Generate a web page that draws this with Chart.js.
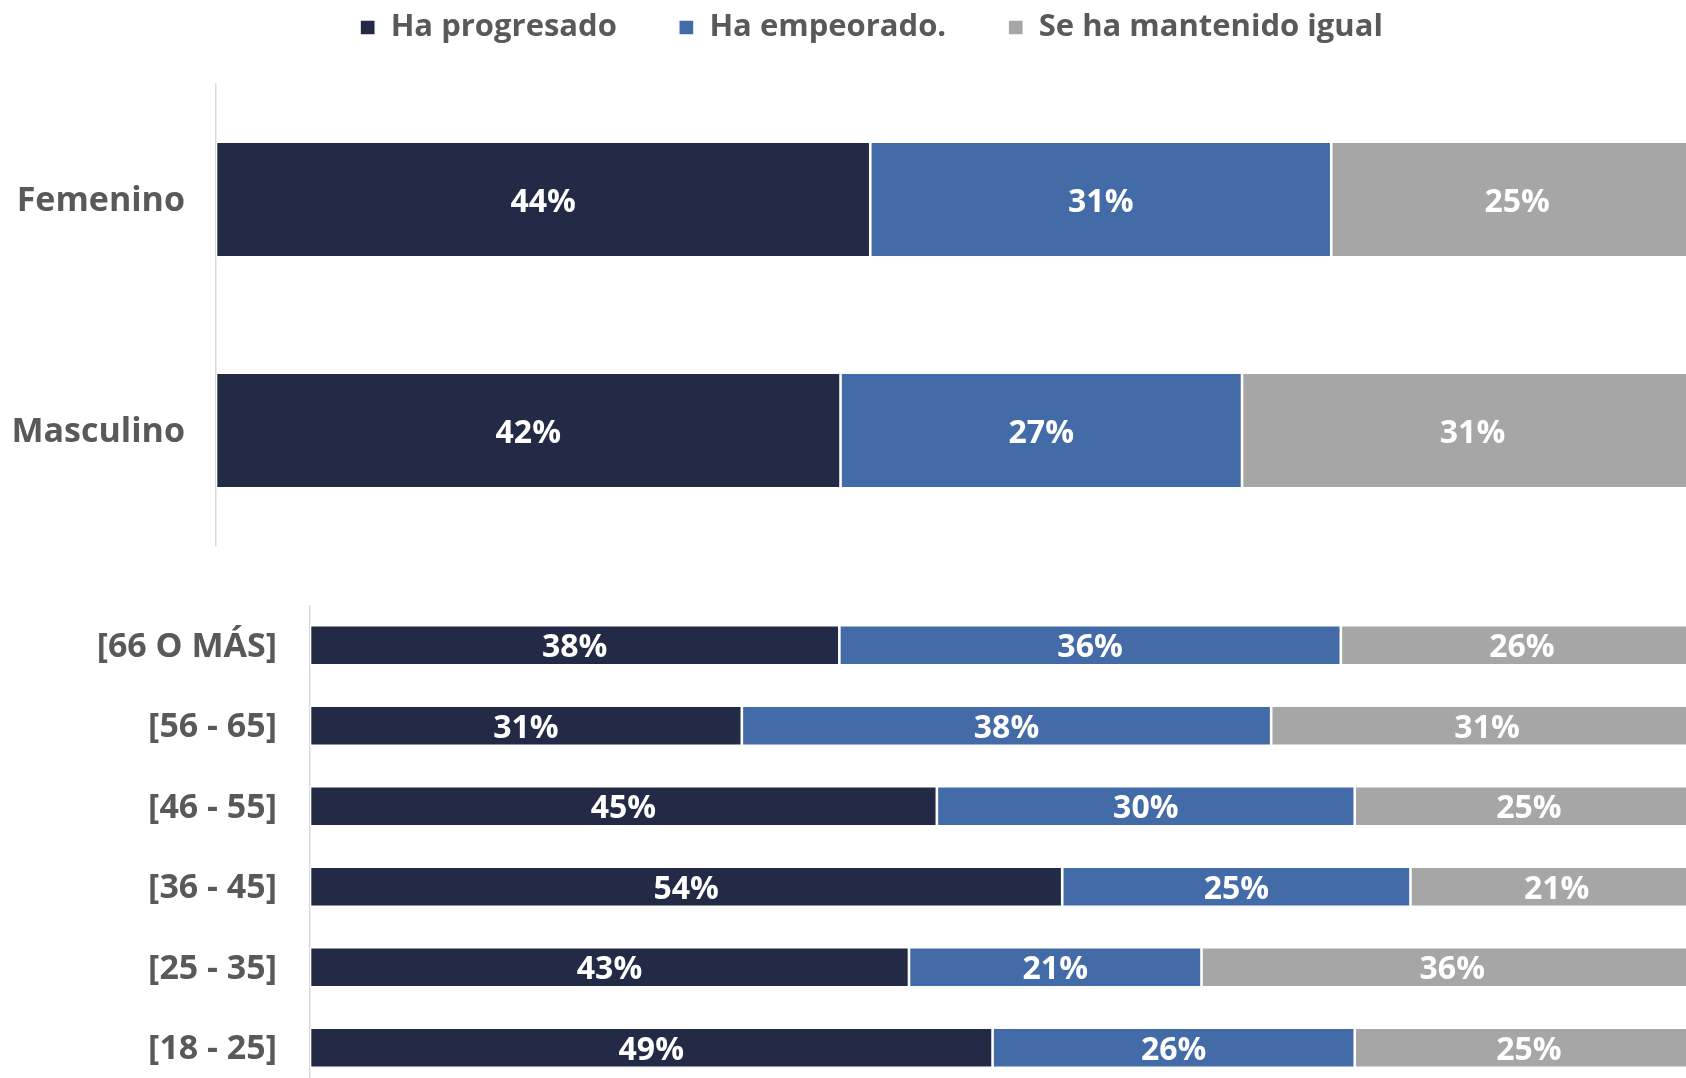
<!DOCTYPE html>
<html lang="es">
<head>
<meta charset="utf-8">
<title>Evolución según sexo y edad</title>
<script src="https://cdn.jsdelivr.net/npm/chart.js@4.4.0/dist/chart.umd.min.js"></script>
<style>
    html, body { margin: 0; padding: 0; background: #ffffff; overflow: hidden; width: 1686px; height: 1078px; }
    canvas { position: absolute; left: 0; }
    #sexoChart { top: -50px; }
    #edadChart { top: 605px; }
</style>
</head>
<body>
<canvas id="sexoChart" width="1703" height="596"></canvas>
<canvas id="edadChart" width="1703" height="483"></canvas>
<script>
// Series
const seriesLabels = ['Ha progresado', 'Ha empeorado.', 'Se ha mantenido igual'];
const seriesColors = ['#232A46', '#436BA8', '#A6A6A6'];

// Por sexo
const sexoLabels = ['Femenino', 'Masculino'];
const sexoProgresado = [44, 42];
const sexoEmpeorado = [31, 27];
const sexoIgual = [25, 31];

// Por edad
const edadLabels = ['[66 O MÁS]', '[56 - 65]', '[46 - 55]', '[36 - 45]', '[25 - 35]', '[18 - 25]'];
const edadProgresado = [38, 31, 45, 54, 43, 49];
const edadEmpeorado = [36, 38, 30, 25, 21, 26];
const edadIgual = [26, 31, 25, 21, 36, 25];

const FONT = 'Open Sans';
const TEXT_GREY = '#595959';

// Draws the white % labels in the middle of each segment
const valueLabels = {
    id: 'valueLabels',
    afterDatasetsDraw(chart, args, opts) {
        const ctx = chart.ctx;
        ctx.save();
        ctx.font = `700 ${opts.size}px "${FONT}"`;
        ctx.fillStyle = '#ffffff';
        ctx.textAlign = 'center';
        ctx.textBaseline = 'middle';
        chart.data.datasets.forEach((ds, i) => {
            chart.getDatasetMeta(i).data.forEach((bar, j) => {
                const c = bar.getCenterPoint();
                ctx.fillText(ds.data[j] + '%', c.x, c.y + 3);
            });
        });
        ctx.restore();
    }
};

// Fixed legend height and a small horizontal nudge of the legend
const legendBox = {
    id: 'legendBox',
    beforeUpdate(chart, args, opts) {
        if (!chart.legend || chart.legend._fixed) return;
        const fit = chart.legend.fit;
        chart.legend.fit = function () {
            fit.call(this);
            this.height = opts.height;
        };
        chart.legend._fixed = true;
    },
    afterLayout(chart, args, opts) {
        chart.legend.left += opts.shift;
        chart.legend.right += opts.shift;
    }
};

function makeDatasets(a, b, c) {
    return [a, b, c].map((data, i) => ({
        label: seriesLabels[i],
        data: data,
        backgroundColor: seriesColors[i],
        borderColor: '#ffffff',
        borderWidth: 1.3,
        borderSkipped: false,
        categoryPercentage: 1
    }));
}

function yAxis(width, pad) {
    return {
        stacked: true,
        grid: { display: false, drawTicks: false },
        border: { display: true, color: '#d9d9d9', width: 1.5 },
        ticks: {
            color: TEXT_GREY,
            padding: pad,
            labelOffset: 2,
            font: { family: FONT, size: 34, weight: '700' }
        },
        afterFit(scale) {
            scale.width = width;
            scale.paddingTop = 0;
            scale.paddingBottom = 0;
        }
    };
}

const xAxis = { stacked: true, min: 0, max: 100, display: false };

// Top chart: sexo
const sexoData = makeDatasets(sexoProgresado, sexoEmpeorado, sexoIgual);
sexoData.forEach(d => d.barPercentage = 0.5);

new Chart(document.getElementById('sexoChart'), {
    type: 'bar',
    data: { labels: sexoLabels, datasets: sexoData },
    options: {
        indexAxis: 'y',
        responsive: false,
        animation: false,
        layout: { padding: 0 },
        scales: { x: xAxis, y: yAxis(216, 31) },
        plugins: {
            legend: {
                position: 'top',
                labels: {
                    color: TEXT_GREY,
                    boxWidth: 15,
                    boxHeight: 15,
                    padding: 62,
                    font: { family: FONT, size: 31, weight: '700' }
                }
            },
            tooltip: { enabled: false },
            legendBox: { height: 134, shift: 20 },
            valueLabels: { size: 32 }
        }
    },
    plugins: [legendBox, valueLabels]
});

// Bottom chart: edad
const edadData = makeDatasets(edadProgresado, edadEmpeorado, edadIgual);
edadData.forEach(d => d.barPercentage = 0.5);

new Chart(document.getElementById('edadChart'), {
    type: 'bar',
    data: { labels: edadLabels, datasets: edadData },
    options: {
        indexAxis: 'y',
        responsive: false,
        animation: false,
        layout: { padding: 0 },
        scales: { x: xAxis, y: yAxis(310, 33) },
        plugins: {
            legend: { display: false },
            tooltip: { enabled: false },
            valueLabels: { size: 32 }
        }
    },
    plugins: [valueLabels]
});
</script>
</body>
</html>
